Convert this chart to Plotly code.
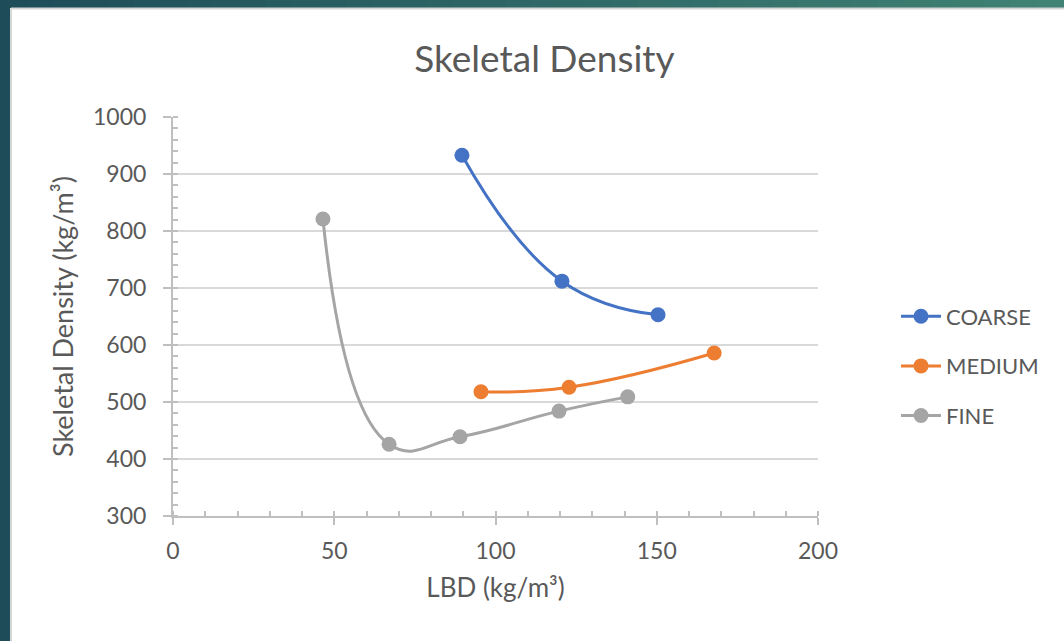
import plotly.graph_objects as go

# ---- data ----
coarse_x = [89.6, 120.6, 150.4]
coarse_y = [933, 712, 653]
medium_x = [95.5, 122.8, 167.8]
medium_y = [518, 526, 586]
fine_x = [46.5, 67.0, 89.0, 119.7, 141.0]
fine_y = [821, 426, 439, 484, 509]

x_ticks = [0, 50, 100, 150, 200]
y_ticks = [300, 400, 500, 600, 700, 800, 900, 1000]

series = [
    ("COARSE", coarse_x, coarse_y, "#4472c4"),
    ("MEDIUM", medium_x, medium_y, "#ed7d31"),
    ("FINE", fine_x, fine_y, "#a5a5a5"),
]

FONT = "Lato, 'Open Sans', sans-serif"
TXT = "#595959"

W, H = 1064, 641
L, R, T, B = 173, 818, 117, 516  # plot area in pixels

fig = go.Figure()
for i, (name, xs, ys, col) in enumerate(series):
    fig.add_trace(go.Scatter(
        x=xs, y=ys, name=name, mode="lines+markers",
        line=dict(color=col, width=3, shape="spline", smoothing=1.3),
        marker=dict(color=col, size=15),
        legendgroup=f"g{i}",
    ))

# frame decoration (teal border of the slide)
def px2x(p):
    return (p - L) / (R - L)

def py2y(p):
    return (B - p) / (B - T)

shapes = []
# top gradient strip
n = 40
c0 = (0x1d, 0x4d, 0x58)
c1 = (0x40, 0x82, 0x74)
for k in range(n):
    t = k / (n - 1)
    c = tuple(int(round(c0[j] + (c1[j] - c0[j]) * t)) for j in range(3))
    xa = W * k / n
    xb = W * (k + 1) / n + 1
    shapes.append(dict(type="rect", xref="paper", yref="paper",
                       x0=px2x(xa), x1=px2x(xb), y0=py2y(8), y1=py2y(-2),
                       fillcolor="rgb(%d,%d,%d)" % c, line=dict(width=0), layer="below"))
# left strip
shapes.append(dict(type="rect", xref="paper", yref="paper",
                   x0=px2x(-2), x1=px2x(10), y0=py2y(W), y1=py2y(-2),
                   fillcolor="#1e4d59", line=dict(width=0), layer="below"))
# thin light border around white area
shapes.append(dict(type="line", xref="paper", yref="paper",
                   x0=px2x(11), x1=px2x(W + 5), y0=py2y(8.5), y1=py2y(8.5),
                   line=dict(color="#d6d6d6", width=2), layer="below"))
shapes.append(dict(type="line", xref="paper", yref="paper",
                   x0=px2x(11), x1=px2x(11), y0=py2y(8.5), y1=py2y(H + 5),
                   line=dict(color="#d6d6d6", width=2), layer="below"))

fig.update_layout(
    width=W, height=H,
    margin=dict(l=L, r=W - R, t=T, b=H - B),
    paper_bgcolor="white", plot_bgcolor="white",
    font=dict(family=FONT, color=TXT),
    title=dict(text="Skeletal Density", x=(413 + 676) / 2 / W, xanchor="center",
               y=1 - 59 / H, yanchor="middle",
               font=dict(family=FONT, size=37, color=TXT)),
    showlegend=True,
    legend=dict(x=px2x(896), xanchor="left", y=py2y(366), yanchor="middle",
                font=dict(family=FONT, size=22, color=TXT),
                tracegroupgap=18, itemwidth=40, bgcolor="rgba(0,0,0,0)"),
    shapes=shapes,
)

fig.update_xaxes(
    range=[0, 200], tickvals=x_ticks, ticktext=[str(v) for v in x_ticks],
    showgrid=False, zeroline=False,
    showline=True, linecolor="#bfbfbf", linewidth=2,
    ticks="outside", ticklen=7, tickcolor="#bfbfbf", tickwidth=2,
    minor=dict(dtick=10, ticks="inside", ticklen=5, tickcolor="#bfbfbf", tickwidth=1.5, showgrid=False),
    tickfont=dict(family=FONT, size=23, color=TXT),
    ticklabelstandoff=6,
    title=dict(text="LBD (kg/m³)", font=dict(family=FONT, size=26, color=TXT), standoff=16),
)
fig.update_yaxes(
    range=[300, 1000], tickvals=y_ticks, ticktext=[str(v) for v in y_ticks],
    showgrid=True, gridcolor="#d9d9d9", gridwidth=2, zeroline=False,
    showline=True, linecolor="#bfbfbf", linewidth=2,
    ticks="outside", ticklen=8, tickcolor="#bfbfbf", tickwidth=2,
    minor=dict(dtick=20, ticks="inside", ticklen=5, tickcolor="#bfbfbf", tickwidth=1.5, showgrid=False),
    tickfont=dict(family=FONT, size=23, color=TXT),
    ticklabelstandoff=12,
    title=dict(text="Skeletal Density (kg/m³)", font=dict(family=FONT, size=27, color=TXT), standoff=12),
)

fig.write_html("out.html")
